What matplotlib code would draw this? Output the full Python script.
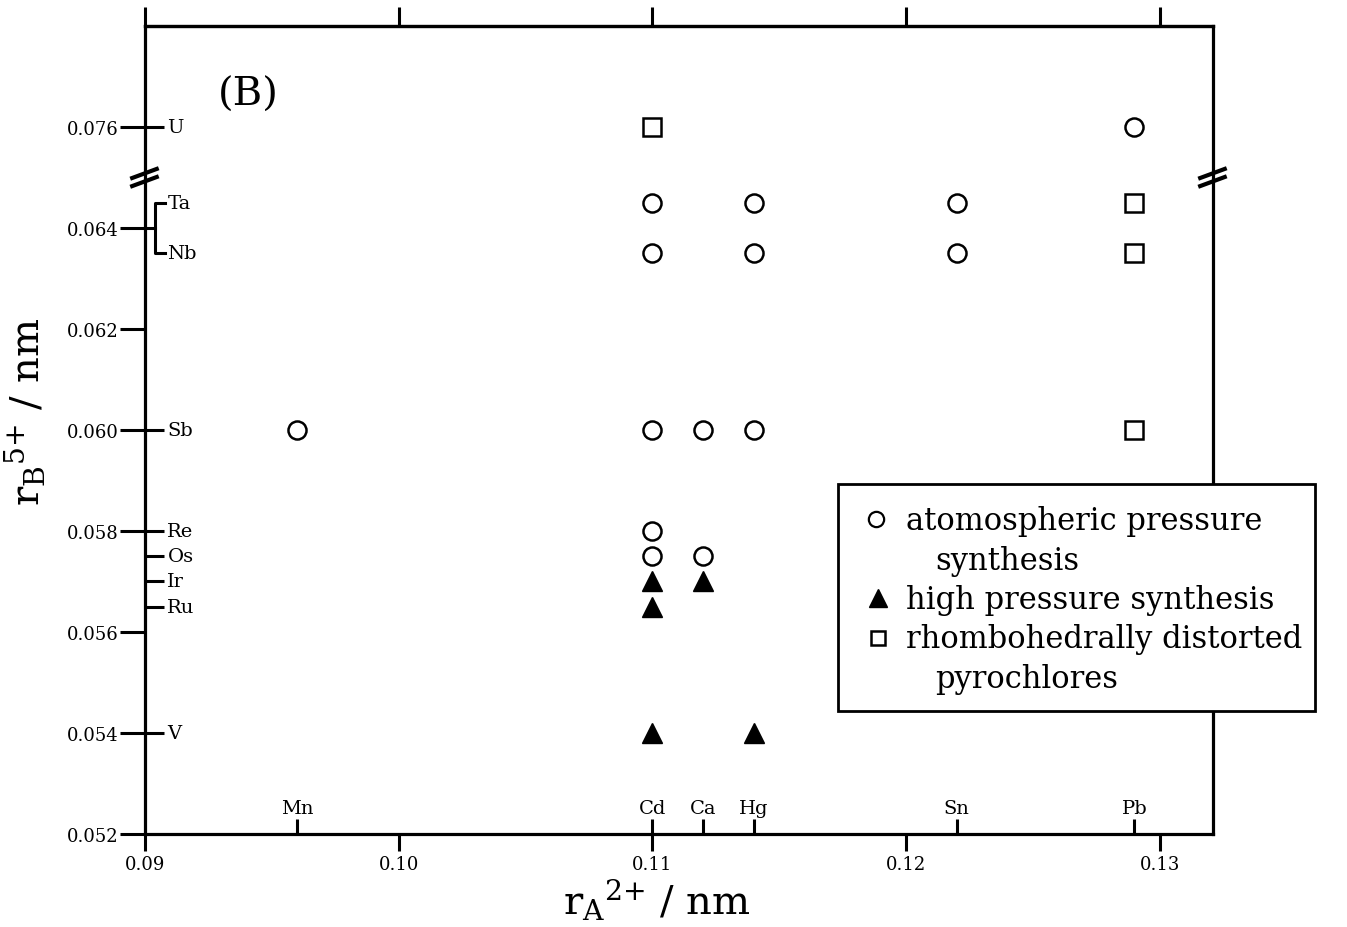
import matplotlib
matplotlib.use("Agg")
import matplotlib.pyplot as plt
from matplotlib.lines import Line2D
from matplotlib.patches import Rectangle
import matplotlib.transforms as mtransforms

plt.rcParams['font.family'] = ['DejaVu Serif']
plt.rcParams['mathtext.fontset'] = 'dejavuserif'

# A-site cations (r_A2+ / nm) and B-site cations (r_B5+ / nm)
a_names = ["Mn", "Cd", "Ca", "Hg", "Sn", "Pb"]
a_radii = [0.096, 0.110, 0.112, 0.114, 0.122, 0.129]
b_names = ["U", "Ta", "Nb", "Sb", "Re", "Os", "Ir", "Ru", "V"]
b_radii = [0.076, 0.0645, 0.0635, 0.060, 0.058, 0.0575, 0.057, 0.0565, 0.054]

# atmospheric pressure synthesis (open circles)
atm_x = [0.096, 0.110, 0.110, 0.110, 0.110, 0.110, 0.112, 0.112,
         0.114, 0.114, 0.114, 0.122, 0.122, 0.129]
atm_y = [0.060, 0.0645, 0.0635, 0.060, 0.058, 0.0575, 0.060, 0.0575,
         0.0645, 0.0635, 0.060, 0.0645, 0.0635, 0.076]
# high pressure synthesis (filled triangles)
hp_x = [0.110, 0.110, 0.110, 0.112, 0.114]
hp_y = [0.057, 0.0565, 0.054, 0.057, 0.054]
# rhombohedrally distorted pyrochlores (open squares)
rh_x = [0.110, 0.129, 0.129, 0.129]
rh_y = [0.076, 0.0645, 0.0635, 0.060]

y_ticks = [0.052, 0.054, 0.056, 0.058, 0.060, 0.062, 0.064, 0.076]
x_ticks = [0.09, 0.10, 0.11, 0.12, 0.13]
x_tick_labels = ["0.09", "0.10", "0.11", "0.12", "0.13"]


# broken y axis: values above the break are shifted down
def ybrk(v):
    return v - 0.010 if v > 0.07 else v


fig = plt.figure(figsize=(13.47, 9.28), dpi=100)
ax = fig.add_axes([145 / 1347, 1 - 835 / 928, 1068 / 1347, 808 / 928])
ax.set_xlim(0.09, 0.1321)
ax.set_ylim(0.052, 0.068)

for s in ax.spines.values():
    s.set_linewidth(2.3)

mk = dict(linestyle="none", color="black", clip_on=False, zorder=3)
ax.plot(atm_x, [ybrk(v) for v in atm_y], marker="o", ms=13, mfc="white", mew=1.8, **mk)
ax.plot(hp_x, [ybrk(v) for v in hp_y], marker="^", ms=14, mfc="black", mew=1.0, **mk)
ax.plot(rh_x, [ybrk(v) for v in rh_y], marker="s", ms=12.5, mfc="white", mew=1.8, **mk)

# y ticks
ax.set_yticks([ybrk(v) for v in y_ticks])
ax.set_yticklabels(["%.3f" % v for v in y_ticks])
inner_b = [ybrk(v) for n, v in zip(b_names, b_radii) if n not in ("Ta", "Nb")]
ax.set_yticks(inner_b, minor=True)
ax.yaxis.remove_overlapping_locs = False
ax.tick_params(axis="y", which="major", direction="out", length=18, width=2.2,
               labelsize=13, pad=1, right=False)
ax.tick_params(axis="y", which="minor", direction="in", length=14, width=2.2,
               right=False)

# x ticks
ax.set_xticks(x_ticks)
ax.set_xticklabels(x_tick_labels)
ax.set_xticks(a_radii, minor=True)
ax.xaxis.remove_overlapping_locs = False
ax.tick_params(axis="x", which="major", direction="out", length=12, width=2.2,
               labelsize=13, pad=3, top=False)
ax.tick_params(axis="x", which="minor", direction="in", length=11, width=2.2,
               top=False)

top = ax.secondary_xaxis("top")
top.set_xticks(x_ticks)
top.set_xticklabels([])
top.tick_params(direction="out", length=14, width=2.2)
top.spines["top"].set_linewidth(2.3)

# element labels inside the axes
bt = mtransforms.blended_transform_factory(ax.transAxes, ax.transData)
for n, v in zip(b_names, b_radii):
    ax.text(0.021, ybrk(v), n, transform=bt, ha="left", va="center", fontsize=14)
xt = mtransforms.blended_transform_factory(ax.transData, ax.transAxes)
for n, v in zip(a_names, a_radii):
    ax.text(v, 0.021, n, transform=xt, ha="center", va="bottom", fontsize=14)

# Ta / Nb bracket
ax.plot([0.0, 0.0094], [0.064, 0.064], color="black", lw=2.2, transform=bt, clip_on=False)
ax.plot([0.0187, 0.0094, 0.0094, 0.0187], [0.0645, 0.0645, 0.0635, 0.0635],
        color="black", lw=2.2, transform=bt, clip_on=False)

# axis break marks
for xc in (0.0, 1.0):
    for dy in (0.00008, -0.00008):
        ax.plot([xc - 0.012, xc + 0.011], [0.0650 + dy - 0.00009, 0.0650 + dy + 0.00009],
                color="black", lw=3, transform=bt, clip_on=False, zorder=4)

fig.text(218 / 1347, 1 - 95 / 928, "(B)", fontsize=29, va="center", ha="left")
fig.text(25 / 1347, 1 - 412 / 928, r"r$_{\mathrm{B}}$$^{5{+}}$ / nm", rotation=90,
         fontsize=29, ha="center", va="center")
fig.text(657 / 1347, 1 - 900 / 928, r"r$_{\mathrm{A}}$$^{2{+}}$ / nm",
         fontsize=29, ha="center", va="center")

# legend box
W, H = 1347.0, 928.0
fig.add_artist(Rectangle((838 / W, 1 - 712 / H), 477 / W, 227 / H, transform=fig.transFigure,
                         facecolor="white", edgecolor="black", lw=2.0, zorder=5))
fig.add_artist(Line2D([876 / W], [1 - 520 / H], marker="o", ms=11, mfc="white", mec="black",
                      mew=1.6, transform=fig.transFigure, zorder=6))
fig.add_artist(Line2D([878 / W], [1 - 599 / H], marker="^", ms=13, mfc="black", mec="black",
                      transform=fig.transFigure, zorder=6))
fig.add_artist(Line2D([878 / W], [1 - 639 / H], marker="s", ms=10, mfc="white", mec="black",
                      mew=1.8, transform=fig.transFigure, zorder=6))
leg_lines = [(906, 530, "atomospheric pressure"), (935, 570, "synthesis"),
             (906, 609, "high pressure synthesis"), (906, 648, "rhombohedrally distorted"),
             (935, 688, "pyrochlores")]
for lx, ly, s in leg_lines:
    fig.text(lx / W, 1 - ly / H, s, fontsize=22, ha="left", va="baseline", zorder=6)

fig.savefig("out.png", dpi=100)
